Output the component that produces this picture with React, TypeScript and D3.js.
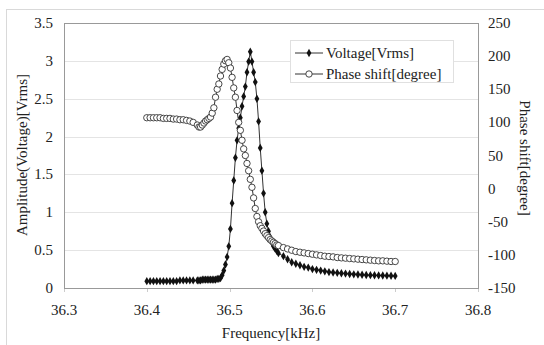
import React, { useEffect, useRef } from 'react'
import * as d3 from 'd3'

// measured frequencies [kHz]
const freq = [
  36.400, 36.404, 36.408, 36.412, 36.416, 36.420, 36.424, 36.428, 36.432, 36.436, 36.440, 36.444, 36.448, 36.452, 36.456,
  36.461, 36.463, 36.465, 36.467, 36.469, 36.471, 36.473, 36.475, 36.477, 36.479, 36.481, 36.483, 36.485, 36.487, 36.489,
  36.491, 36.493, 36.495, 36.497, 36.499, 36.501, 36.503, 36.505, 36.507, 36.509, 36.511, 36.513, 36.515, 36.517, 36.519,
  36.521, 36.523, 36.525, 36.527, 36.529, 36.531, 36.533, 36.535, 36.537, 36.539, 36.541, 36.543, 36.545, 36.547, 36.549,
  36.551, 36.553, 36.555, 36.557, 36.559,
  36.565, 36.570, 36.575, 36.580, 36.585, 36.590, 36.595, 36.600, 36.605, 36.610, 36.615, 36.620, 36.625, 36.630, 36.635,
  36.640, 36.645, 36.650, 36.655, 36.660, 36.665, 36.670, 36.675, 36.680, 36.685, 36.690, 36.695, 36.700,
]

const voltage = [
  0.09, 0.09, 0.09, 0.09, 0.09, 0.09, 0.09, 0.09, 0.09, 0.09, 0.10, 0.10, 0.10, 0.10, 0.10,
  0.10, 0.10, 0.10, 0.11, 0.11, 0.11, 0.11, 0.11, 0.11, 0.11, 0.11, 0.11, 0.12, 0.12, 0.13,
  0.17, 0.23, 0.31, 0.41, 0.55, 0.78, 1.12, 1.42, 1.72, 1.95, 2.11, 2.25, 2.40, 2.53, 2.66,
  2.85, 2.99, 3.12, 2.99, 2.85, 2.72, 2.50, 2.20, 1.85, 1.55, 1.25, 1.00, 0.85, 0.75, 0.67,
  0.60, 0.55, 0.52, 0.49, 0.46,
  0.42, 0.38, 0.34, 0.32, 0.30, 0.28, 0.27, 0.25, 0.24, 0.23, 0.22, 0.21, 0.205, 0.20, 0.195,
  0.19, 0.185, 0.18, 0.178, 0.175, 0.172, 0.17, 0.168, 0.166, 0.165, 0.163, 0.162, 0.16,
]

const phase = [
  107, 107, 107, 107, 107, 106, 106, 106, 105, 105, 104, 104, 103, 102, 100,
  96, 93, 93, 96, 99, 102, 104, 106, 108, 114, 122, 138, 150, 158, 170,
  180, 188, 193, 195, 190, 182, 168, 152, 138, 118, 100, 88, 73, 60, 50,
  38, 27, 14, 2, -14, -30, -42, -50, -56, -60, -64, -68, -71, -74, -77,
  -79, -81, -83, -85, -86,
  -89, -91, -93, -95, -96, -97, -98, -99, -100, -101, -102, -102.5, -103, -104, -104.5,
  -105, -105.5, -106, -106.5, -107, -107.5, -108, -108.5, -109, -109, -109.5, -110, -110,
]

const xTicks = [36.3, 36.4, 36.5, 36.6, 36.7, 36.8]
const yLeftTicks = [0, 0.5, 1, 1.5, 2, 2.5, 3, 3.5]
const yRightTicks = [-150, -100, -50, 0, 50, 100, 150, 200, 250]
const seriesNames = ['Voltage[Vrms]', 'Phase shift[degree]']

const App = () => {
  const svgRef = useRef(null)
  const width = 544
  const height = 345

  useEffect(() => {
    const svg = d3.select(svgRef.current)
    svg.selectAll('*').remove()
    const font = '"Liberation Serif", "Times New Roman", serif'
    const txt = '#222'
    const fs = 15

    const left = 64, right = 478, top = 23, bottom = 288

    const x = d3.scaleLinear().domain([36.3, 36.8]).range([left, right])
    const yL = d3.scaleLinear().domain([0, 3.5]).range([bottom, top])
    const yR = d3.scaleLinear().domain([-150, 250]).range([bottom, top])

    // outer frame
    svg.append('rect')
      .attr('x', 6.5).attr('y', 9.5).attr('width', 560).attr('height', 360)
      .attr('fill', 'white').attr('stroke', '#d9d9d9')

    // grid
    svg.append('g').selectAll('line').data(yLeftTicks.slice(1, -1)).join('line')
      .attr('x1', left).attr('x2', right)
      .attr('y1', d => Math.round(yL(d)) + 0.5).attr('y2', d => Math.round(yL(d)) + 0.5)
      .attr('stroke', '#e4e4e4')

    // x ticks
    svg.append('g').selectAll('line').data(xTicks).join('line')
      .attr('x1', d => Math.round(x(d)) + 0.5).attr('x2', d => Math.round(x(d)) + 0.5)
      .attr('y1', bottom).attr('y2', bottom + 4)
      .attr('stroke', '#ccc')

    svg.append('rect')
      .attr('x', left + 0.5).attr('y', top + 0.5)
      .attr('width', right - left).attr('height', bottom - top)
      .attr('fill', 'none').attr('stroke', '#999')

    // tick labels
    svg.append('g').selectAll('text').data(yLeftTicks).join('text')
      .attr('x', 53).attr('y', d => yL(d) + 5)
      .attr('text-anchor', 'end')
      .attr('font-family', font).attr('font-size', fs).attr('fill', txt)
      .text(d => String(d))

    svg.append('g').selectAll('text').data(yRightTicks).join('text')
      .attr('x', 488).attr('y', d => yR(d) + 5)
      .attr('text-anchor', 'start')
      .attr('font-family', font).attr('font-size', fs).attr('fill', txt)
      .text(d => String(d))

    svg.append('g').selectAll('text').data(xTicks).join('text')
      .attr('x', d => x(d)).attr('y', 315)
      .attr('text-anchor', 'middle')
      .attr('font-family', font).attr('font-size', fs).attr('fill', txt)
      .text(d => d.toFixed(1))

    // axis titles
    svg.append('text')
      .attr('x', 271).attr('y', 338)
      .attr('text-anchor', 'middle')
      .attr('font-family', font).attr('font-size', fs).attr('fill', txt)
      .text('Frequency[kHz]')

    svg.append('text')
      .attr('transform', 'translate(27,155) rotate(-90)')
      .attr('text-anchor', 'middle')
      .attr('font-family', font).attr('font-size', fs).attr('fill', txt)
      .text('Amplitude(Voltage)[Vrms]')

    svg.append('text')
      .attr('transform', 'translate(520,158) rotate(90)')
      .attr('text-anchor', 'middle')
      .attr('font-family', font).attr('font-size', fs).attr('fill', txt)
      .text('Phase shift[degree]')

    const vPts = freq.map((f, i) => [f, voltage[i]])
    const pPts = freq.map((f, i) => [f, phase[i]])

    const diamond = d3.symbol().type(d3.symbolDiamond).size(20)

    // voltage series
    svg.append('path')
      .datum(vPts)
      .attr('d', d3.line().x(d => x(d[0])).y(d => yL(d[1])))
      .attr('fill', 'none').attr('stroke', '#333').attr('stroke-width', 1)
    svg.append('g').selectAll('path').data(vPts).join('path')
      .attr('transform', d => `translate(${x(d[0])},${yL(d[1])})`)
      .attr('d', diamond())
      .attr('fill', '#111')

    // phase series
    svg.append('path')
      .datum(pPts)
      .attr('d', d3.line().x(d => x(d[0])).y(d => yR(d[1])))
      .attr('fill', 'none').attr('stroke', '#333').attr('stroke-width', 1)
    svg.append('g').selectAll('circle').data(pPts).join('circle')
      .attr('cx', d => x(d[0])).attr('cy', d => yR(d[1]))
      .attr('r', 3.2)
      .attr('fill', 'white').attr('stroke', '#333').attr('stroke-width', 0.9)

    // legend
    const lg = svg.append('g')
    lg.append('rect')
      .attr('x', 290.5).attr('y', 40.5).attr('width', 163).attr('height', 42)
      .attr('fill', 'white').attr('stroke', '#e0e0e0')
    seriesNames.forEach((name, i) => {
      const cy = 53 + i * 21
      lg.append('line')
        .attr('x1', 295).attr('x2', 323).attr('y1', cy).attr('y2', cy)
        .attr('stroke', '#333')
      if (i === 0) {
        lg.append('path')
          .attr('transform', `translate(309,${cy})`)
          .attr('d', diamond()).attr('fill', '#111')
      } else {
        lg.append('circle')
          .attr('cx', 309).attr('cy', cy).attr('r', 3.2)
          .attr('fill', 'white').attr('stroke', '#333').attr('stroke-width', 0.9)
      }
      lg.append('text')
        .attr('x', 326).attr('y', cy + 5)
        .attr('font-family', font).attr('font-size', fs).attr('fill', txt)
        .text(name)
    })
  }, [])

  return (
    <svg ref={svgRef} width={width} height={height}
      style={{ position: 'absolute', left: 0, top: 0, background: 'white' }} />
  )
}

export default App
